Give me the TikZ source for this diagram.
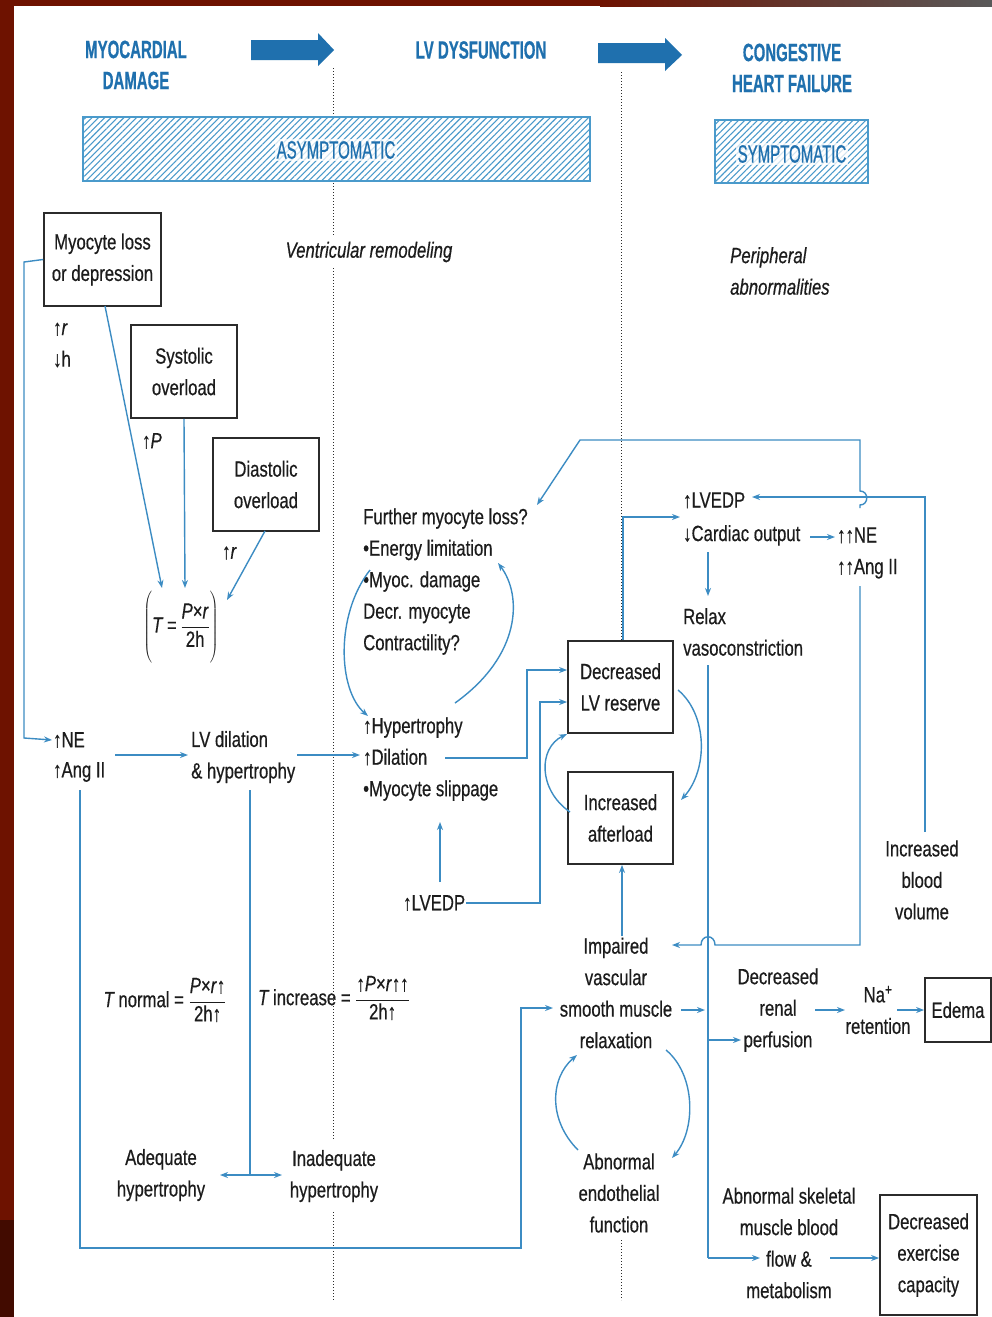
\documentclass[tikz,border=0pt]{standalone}
\usepackage{fontspec}
\setmainfont{Liberation Sans}[FakeStretch=0.76,FakeBold=0.5]
\newfontfamily\hdfont{Liberation Sans}[FakeStretch=0.6,FakeBold=0.6]
\usetikzlibrary{arrows.meta,patterns.meta}
\definecolor{lineblue}{HTML}{3C8CC3}
\definecolor{headblue}{HTML}{1F70AE}
\definecolor{hatchblue}{HTML}{4A9ACB}
\definecolor{boxcol}{HTML}{2B2B2B}
\definecolor{txtcol}{HTML}{1C1C1C}
\definecolor{slidered}{HTML}{6E1200}
\newcommand{\fs}{\fontsize{22}{31.5}\selectfont}
\newcommand{\hfs}{\hdfont\bfseries\fontsize{25}{31}\selectfont}
\tikzset{
  txt/.style={font=\fs, align=center, inner sep=1pt, text=txtcol, fill=white},
  ltxt/.style={txt, align=left, anchor=west},
  hd/.style={font=\hfs, text=headblue, align=center, inner sep=0pt},
  bx/.style={draw=boxcol, line width=1.8pt, font=\fs, align=center, inner sep=0pt, fill=white, text=txtcol},
  conn/.style={draw=lineblue, line width=1.4pt},
  arr/.style={conn, -{Stealth[length=8pt,width=6pt]}},
  dotline/.style={draw=boxcol, line width=1pt, dash pattern=on 1.4pt off 1.6pt},
  hatchbar/.style={pattern={Lines[angle=45,distance=4.5pt,line width=1.1pt]}, pattern color=hatchblue},
  barlabel/.style={font=\hdfont\fontsize{25}{28}\selectfont, text=headblue, fill=white, fill opacity=0.75, text opacity=1, inner sep=2pt},
  bigarrow/.style={fill=headblue, draw=none}
}
\begin{document}
\begin{tikzpicture}[x=1pt,y=-1pt]
\useasboundingbox (0,0) rectangle (992,1317);
\clip (0,0) rectangle (992,1317);
\fill[white] (0,0) rectangle (992,1317);
% slide background strips
\fill[slidered] (0,0) rectangle (14,1317);
\fill[slidered!60!black] (0,1220) rectangle (14,1317);
\fill[slidered] (0,0) rectangle (600,6);
\shade[left color=slidered, right color=black!65] (600,0) rectangle (992,6);

% dotted separators (interrupted where texts sit)
\draw[dotline] (333,68) -- (333,116);
\draw[dotline] (333,183) -- (333,236);
\draw[dotline] (333,268) -- (333,1140);
\draw[dotline] (333,1212) -- (333,1300);
\draw[dotline] (621,72) -- (621,641);
\draw[dotline] (621,1240) -- (621,1300);

% headers
\node[hd] (hdmyo) at (136,65) {MYOCARDIAL\\DAMAGE};
\node[hd] (hdlv) at (481,50) {LV DYSFUNCTION};
\node[hd] (hdchf) at (792,68) {CONGESTIVE\\HEART FAILURE};
\fill[bigarrow] (251,40) -- (318,40) -- (318,33) -- (334,50) -- (318,66) -- (318,60) -- (251,60) -- cycle;
\fill[bigarrow] (598,43) -- (665,43) -- (665,38) -- (682,55) -- (665,71) -- (665,63) -- (598,63) -- cycle;

% bars
\path[hatchbar] (83,117) rectangle (590,181);
\draw[hatchblue, line width=1.2pt] (83,117) rectangle (590,181);
\node[barlabel] (asym) at (336,150) {ASYMPTOMATIC};
\path[hatchbar] (715,120) rectangle (868,183);
\draw[hatchblue, line width=1.2pt] (715,120) rectangle (868,183);
\node[barlabel] (sym) at (792,154) {SYMPTOMATIC};

% italic section labels
\node[txt, font=\fs\itshape] (vent) at (369,252) {Ventricular remodeling};
\node[ltxt, font=\fs\itshape] (periph) at (729,271) {Peripheral\\abnormalities};

% left column
\node[bx, minimum width=117pt, minimum height=93pt] (myo) at (102.5,259.5) {Myocyte loss\\or depression};
\node[ltxt] (rh) at (52,345) {↑\textit{r}\\↓h};
\node[bx, minimum width=106pt, minimum height=93pt] (sys) at (184,371.5) {Systolic\\overload};
\node[ltxt] (pp) at (141,441) {↑\textit{P}};
\node[bx, minimum width=106pt, minimum height=93pt] (dia) at (266,484.5) {Diastolic\\overload};
\node[ltxt] (rr) at (221,553) {↑\textit{r}};
\node[txt, fill=none] (tform) at (181,628) {$\displaystyle\left(\rule[-32pt]{0pt}{72pt}\mbox{\textit{T}\,=\,}\frac{\mbox{\textit{P}×\textit{r}}}{\mbox{2h}}\right)$};

\node[ltxt] (ne1) at (52,740) {↑NE};
\node[ltxt] (ang1) at (52,772) {↑Ang II};
\node[ltxt] (lvdil) at (190,757) {LV dilation\\\& hypertrophy};
\node[ltxt] (hyp) at (362,759) {↑Hypertrophy\\↑Dilation\\•Myocyte slippage};
\node[ltxt] (further) at (362,581.5) {Further myocyte loss?\\•Energy limitation\\•Myoc. damage\\Decr. myocyte\\Contractility?};
\node[ltxt] (lvedpa) at (402,903) {↑LVEDP};

\node[txt, fill=none] (tnorm) at (165,1000) {\textit{T}\,normal = $\displaystyle\frac{\mbox{\textit{P}×\textit{r}↑}}{\mbox{2h↑}}$};
\node[txt, fill=none] (tinc) at (334,998) {\textit{T}\,increase = $\displaystyle\frac{\mbox{↑\textit{P}×\textit{r}↑↑}}{\mbox{2h↑}}$};
\node[txt] (adeq) at (161,1175) {Adequate\\hypertrophy};
\node[txt] (inadeq) at (334,1176) {Inadequate\\hypertrophy};

% middle / right
\node[bx, minimum width=105pt, minimum height=92pt] (lvres) at (620.5,687) {Decreased\\LV reserve};
\node[bx, minimum width=105pt, minimum height=92pt] (aft) at (620.5,818) {Increased\\afterload};
\node[ltxt] (lvedpb) at (682,519) {↑LVEDP\\[2pt]↓Cardiac output};
\node[ltxt] (relax) at (682,632) {Relax\\vasoconstriction};
\node[ltxt] (ne2) at (836,553) {↑↑NE\\↑↑Ang II};
\node[txt] (blood) at (922,880) {Increased\\blood\\volume};
\node[txt] (impaired) at (616,993) {Impaired\\vascular\\smooth muscle\\relaxation};
\node[txt] (renal) at (778,1010) {Decreased\\renal\\perfusion};
\node[txt] (na) at (878,1010) {Na\textsuperscript{+}\\retention};
\node[bx, minimum width=66pt, minimum height=64pt] (edema) at (958,1010) {Edema};
\node[txt] (endo) at (619,1193) {Abnormal\\endothelial\\function};
\node[txt] (skel) at (789,1243) {Abnormal skeletal\\muscle blood\\flow \&\\metabolism};
\node[bx, minimum width=97pt, minimum height=120pt] (exer) at (928.5,1255) {Decreased\\exercise\\capacity};

% ---- connectors ----
% left column
\draw[arr] (myo.west) -- (24,262) -- (24,738) -- (ne1.west);
\draw[arr] (105,306) -- (162,588);
\draw[arr] (sys.south) -- (185,588);
\draw[arr] (265,531) -- (227,600);
\draw[arr] (115,755) -- (188,755);
\draw[arr] (297,755) -- (360,755);
% middle
\draw[arr] (440,882) -- (440,822);
\draw[arr] (lvedpa.east) -- (540,903) -- (540,702) -- (lvres.west |- 0,702);
\draw[arr] (445,758) -- (527,758) -- (527,670) -- (lvres.west |- 0,670);
\draw[arr] (370,570) .. controls (335,615) and (338,690) .. (368,716);
\draw[arr] (455,703) .. controls (522,655) and (522,595) .. (498,563);
\draw[arr] (678,690) .. controls (708,715) and (708,770) .. (681,800);
\draw[arr] (570,812) .. controls (538,790) and (538,748) .. (567,734);
\draw[arr] (lvres.north -| 623,0) -- (623,517) -- (680,517);
% right
\draw[arr] (708,552) -- (708,596);
\draw[arr] (810,537) -- (835,537);
\draw[arr] (860,508) -- (860,505) .. controls (869,505) and (869,491) .. (860,491) -- (860,440) -- (580,440) -- (537,505);
\draw[arr] (925,832) -- (925,497) -- (752,497);
\draw[arr] (860,586) -- (860,945) -- (715,945) .. controls (715,934) and (701,934) .. (701,945) -- (672,945);
\draw[conn] (708,665) -- (708,1258);
\draw[arr] (708,1258) -- (760,1258);
\draw[arr] (681,1010) -- (705,1010);
\draw[arr] (708,1040) -- (741,1040);
\draw[arr] (815,1010) -- (845,1010);
\draw[arr] (897,1010) -- (edema.west);
\draw[arr] (830,1258) -- (exer.west |- 0,1258);
\draw[arr] (impaired.north -| 622,0) -- (aft.south -| 622,0);
\draw[arr] (578,1150) .. controls (548,1120) and (550,1078) .. (577,1055);
\draw[arr] (666,1050) .. controls (696,1075) and (696,1130) .. (672,1158);
% bottom left
\draw[arr] (80,790) -- (80,1248) -- (521,1248) -- (521,1008) -- (553,1008);
\draw[conn] (250,790) -- (250,1175);
\draw[conn, {Stealth[length=8pt,width=6pt]}-{Stealth[length=8pt,width=6pt]}] (220,1175) -- (282,1175);
\end{tikzpicture}
\end{document}
